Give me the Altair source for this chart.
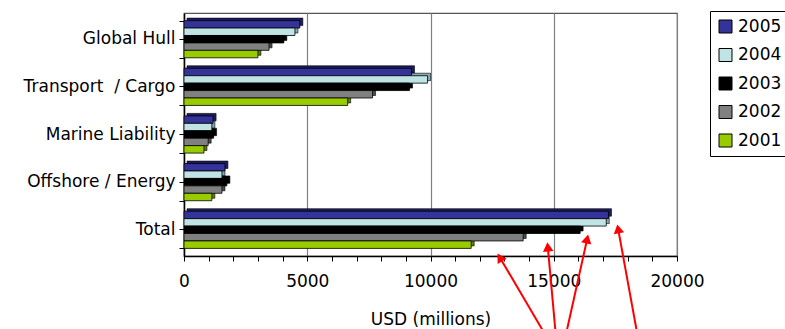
import math
import altair as alt
import pandas as pd

# ---------------- data ----------------
categories = ["Global Hull", "Transport\u00a0 / Cargo", "Marine Liability", "Offshore / Energy", "Total"]
years = ["2005", "2004", "2003", "2002", "2001"]
v2005 = [4700, 9230, 1180, 1660, 17220]
v2004 = [4500, 9880, 1130, 1540, 17130]
v2003 = [4050, 9150, 1200, 1740, 16070]
v2002 = [3450, 7650, 980, 1540, 13760]
v2001 = [3000, 6640, 810, 1130, 11650]

# annotation arrows (x in USD millions, y in category rows measured from the bottom of the plot)
arrow_tip_x = [12710, 14740, 16400, 17575]
arrow_tip_y = [0.06, 0.29, 0.45, 0.66]
arrow_tail_x = [14900, 15120, 15400, 18470]
arrow_tail_y = [-1.83, -1.83, -1.83, -1.83]

colors = ["#333399", "#C0E4E6", "#000000", "#808080", "#99CC00"]
side_colors = ["#1c1c5e", "#86a9ab", "#000000", "#4d4d4d", "#5f8000"]

FONT = "DejaVu Sans"
W, H = 493, 243
XMAX = 20000
PAD_IN, PAD_OUT = 0.22, 0.16
step = H / (len(categories) - PAD_IN + 2 * PAD_OUT)
band = step * (1 - PAD_IN)
depth = 2.5

rows = []
for yr, vals in zip(years, [v2005, v2004, v2003, v2002, v2001]):
    for c, v in zip(categories, vals):
        rows.append({"category": c, "year": yr, "value": v})
df = pd.DataFrame(rows)

# arrows table
arows = []
for tx, ty, sx, sy in zip(arrow_tip_x, arrow_tip_y, arrow_tail_x, arrow_tail_y):
    vx = (tx - sx) * W / XMAX          # screen px, right positive
    vy = -(ty - sy) * H / 5.0          # screen px, down positive
    L = math.hypot(vx, vy)
    ang = math.degrees(math.atan2(vx, -vy)) % 360
    back = 5.0
    hx = tx - vx / L * back * XMAX / W
    hy = ty + vy / L * back * 5.0 / H
    arows.append({"tx": hx, "ty": hy, "sx": sx, "sy": sy, "ang": ang})
adf = pd.DataFrame(arows)

x_axis = alt.Axis(
    values=list(range(0, XMAX + 1, 1000)),
    labelExpr="datum.value % 5000 === 0 ? datum.label : ''",
    format="d",
    labelFlush=False,
    labelOverlap=False,
    title="USD (millions)",
    titleFontSize=17, titleFontWeight="normal", titleFont=FONT, titleColor="black",
    titlePadding=22,
    labelFontSize=17, labelFont=FONT, labelColor="black", labelPadding=12,
    tickSize=5, tickColor="black", domainColor="black", domainWidth=1.5,
    grid=True,
    gridColor=alt.condition("datum.value % 5000 === 0", alt.value("#808080"), alt.value("transparent")),
    gridWidth=1.2,
)
x_enc = alt.X("value:Q", scale=alt.Scale(domain=[0, XMAX], nice=False), axis=x_axis)
y_scale = alt.Scale(paddingInner=PAD_IN, paddingOuter=PAD_OUT)

shadow = alt.Chart(df).mark_bar(xOffset=3, x2Offset=3, stroke="black", strokeWidth=0.6).encode(
    x=x_enc,
    y=alt.Y("category:N", sort=categories, scale=y_scale,
            axis=alt.Axis(orient="left", labels=False, domain=False, tickBand="extent",
                          tickSize=5, tickColor="black", title=None, grid=False)),
    yOffset=alt.YOffset("year:N", sort=years,
                        scale=alt.Scale(range=[-depth, band - depth], paddingInner=0, paddingOuter=0)),
    color=alt.Color("year:N", sort=years, scale=alt.Scale(domain=years, range=side_colors), legend=None),
)

main = alt.Chart(df).mark_bar(stroke="black", strokeWidth=0.8).encode(
    x=x_enc,
    y=alt.Y("category:N", sort=categories, scale=y_scale,
            axis=alt.Axis(orient="left", labelFontSize=17, labelFont=FONT, labelColor="black",
                          labelPadding=4, tickSize=5, tickColor="black", domainColor="black",
                          domainWidth=1.5, title=None, grid=False)),
    yOffset=alt.YOffset("year:N", sort=years,
                        scale=alt.Scale(range=[0, band], paddingInner=0, paddingOuter=0)),
    color=alt.Color("year:N", sort=years, scale=alt.Scale(domain=years, range=colors),
                    legend=alt.Legend(orient="none", legendX=526, legendY=-2, title=None,
                                      strokeColor="black", fillColor="white", padding=7,
                                      symbolType="square", symbolSize=169,
                                      symbolStrokeColor="black", symbolStrokeWidth=1,
                                      labelFontSize=17, labelFont=FONT, labelColor="black",
                                      rowPadding=10.5, labelOffset=4)),
)

ay = alt.Scale(domain=[0, 5], nice=False, zero=False)
arrow_lines = alt.Chart(adf).mark_rule(color="#FF0000", strokeWidth=2).encode(
    x=alt.X("tx:Q", scale=alt.Scale(domain=[0, XMAX], nice=False), axis=x_axis),
    x2="sx:Q",
    y=alt.Y("ty:Q", scale=ay, axis=None),
    y2="sy:Q",
)
arrow_heads = alt.Chart(adf).mark_point(shape="triangle-up", filled=True, color="#FF0000",
                                        size=110, opacity=1).encode(
    x=alt.X("tx:Q", scale=alt.Scale(domain=[0, XMAX], nice=False), axis=x_axis),
    y=alt.Y("ty:Q", scale=ay, axis=None),
    angle=alt.Angle("ang:Q", scale=None),
)

chart = alt.layer(shadow, main, arrow_lines, arrow_heads).resolve_scale(
    color="independent", yOffset="independent", y="independent"
).resolve_axis(y="independent").properties(
    width=W, height=H,
    autosize=alt.AutoSizeParams(type="none"),
    padding={"left": 184, "top": 13, "right": 785 - 184 - W, "bottom": 329 - 13 - H},
).configure(font=FONT).configure_view(stroke="#555555", strokeWidth=1.2)

chart.save("out.html", embed_options={"renderer": "svg", "actions": False})
